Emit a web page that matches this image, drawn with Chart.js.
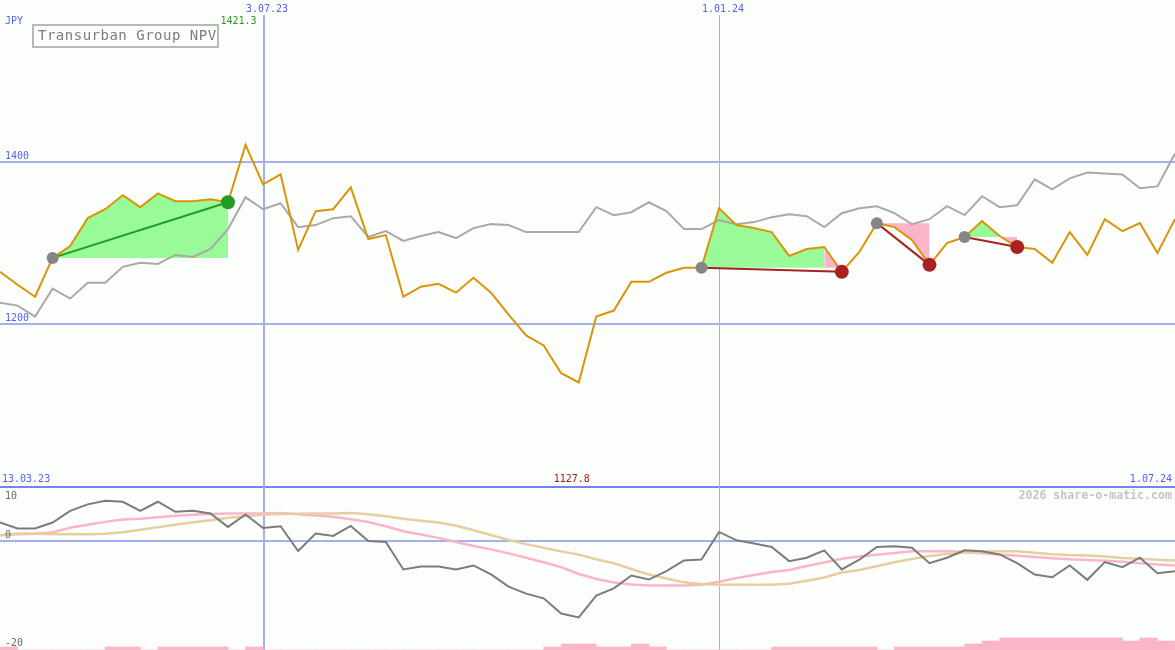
<!DOCTYPE html>
<html>
<head>
<meta charset="utf-8">
<script src="https://cdn.jsdelivr.net/npm/chart.js@4.4.1/dist/chart.umd.min.js"></script>
<style>
  html, body { margin: 0; padding: 0; background: #fcfefc; }
  #wrap { position: relative; width: 1175px; height: 650px; overflow: hidden; }
  #main { position: absolute; left: 0; top: 0; }
  #osc { position: absolute; left: 0; top: 486px; }
</style>
</head>
<body>
<div id="wrap">
  <canvas id="main" width="1175" height="486"></canvas>
  <canvas id="osc" width="1175" height="164"></canvas>
</div>
<script>
// weekly closes, JPY
const price = [1264.4, 1248.5, 1233.7, 1281.6, 1296.3, 1330.7, 1341.7, 1358.9, 1344.2, 1361.3,
    1351.5, 1351.5, 1354.0, 1350.3, 1421.3, 1372.4, 1384.7, 1291.4, 1339.3, 1341.7,
    1368.7, 1304.9, 1309.8, 1233.7, 1246.0, 1249.7, 1238.7, 1257.1, 1238.7, 1211.7,
    1185.9, 1173.6, 1139.3, 1127.8, 1209.2, 1216.6, 1252.1, 1252.1, 1263.2, 1269.3,
    1269.3, 1342.9, 1322.1, 1318.4, 1313.5, 1284.0, 1292.6, 1295.1, 1264.4, 1289.0,
    1324.5, 1319.6, 1303.7, 1273.0, 1300.0, 1307.4, 1327.0, 1308.6, 1295.1, 1292.6,
    1275.5, 1313.5, 1285.3, 1329.4, 1314.7, 1324.5, 1287.7, 1329.4];
// comparison index, rescaled to the price axis
const benchmark = [1226.4, 1222.7, 1209.2, 1243.6, 1231.3, 1250.9, 1250.9, 1270.6, 1275.5, 1274.2,
    1285.3, 1282.8, 1292.6, 1317.2, 1356.4, 1341.7, 1349.1, 1319.6, 1322.1, 1330.7,
    1333.1, 1307.4, 1314.7, 1302.5, 1308.6, 1313.5, 1306.1, 1318.4, 1323.3, 1322.1,
    1313.5, 1313.5, 1313.5, 1313.5, 1344.2, 1334.4, 1338.0, 1350.3, 1339.3, 1317.2,
    1317.2, 1328.2, 1323.3, 1325.8, 1331.9, 1335.6, 1333.1, 1319.6, 1336.8, 1342.9,
    1345.4, 1336.8, 1323.3, 1329.4, 1345.4, 1334.4, 1357.7, 1344.2, 1346.6, 1378.5,
    1366.3, 1379.8, 1387.1, 1385.9, 1384.7, 1367.5, 1369.9, 1410.4];
// lower panel
const momentum = [3.43, 2.31, 2.31, 3.43, 5.59, 6.78, 7.45, 7.27, 5.59, 7.27,
    5.40, 5.59, 5.11, 2.61, 4.92, 2.42, 2.74, -1.86, 1.38, 0.93,
    2.79, 0, -0.19, -5.27, -4.71, -4.71, -5.27, -4.53, -6.20, -8.44,
    -9.74, -10.62, -13.42, -14.16, -10.12, -8.76, -6.39, -7.14, -5.59, -3.60,
    -3.41, 1.68, 0.13, -0.48, -1.12, -3.73, -3.09, -1.73, -5.27, -3.47,
    -1.12, -0.99, -1.23, -4.10, -3.09, -1.73, -1.92, -2.48, -4.10, -6.20,
    -6.71, -4.53, -7.19, -3.91, -4.84, -3.09, -5.96, -5.59];
const signalFast = [1.06, 1.25, 1.34, 1.62, 2.46, 3.02, 3.54, 3.99, 4.14, 4.38,
    4.68, 4.84, 5.01, 5.11, 5.11, 5.11, 5.20, 4.96, 4.73, 4.47,
    4.04, 3.52, 2.74, 1.81, 1.19, 0.58, -0.20, -0.91, -1.55, -2.29,
    -3.11, -3.93, -4.86, -6.11, -7.04, -7.70, -8.07, -8.25, -8.25, -8.25,
    -8.11, -7.56, -6.86, -6.30, -5.74, -5.37, -4.62, -3.97, -3.28, -2.85,
    -2.53, -2.24, -1.92, -1.88, -1.86, -2.05, -2.25, -2.48, -2.72, -2.98,
    -3.20, -3.39, -3.52, -3.65, -3.84, -4.12, -4.34, -4.53];
const signalSlow = [1.06, 1.40, 1.34, 1.25, 1.25, 1.25, 1.34, 1.62, 2.09, 2.55,
    3.02, 3.48, 3.86, 4.32, 4.60, 4.88, 5.01, 5.05, 5.09, 5.11,
    5.18, 4.97, 4.60, 4.14, 3.76, 3.41, 2.81, 1.99, 1.10, 0.20,
    -0.58, -1.25, -1.92, -2.52, -3.37, -4.12, -5.18, -6.20, -6.95, -7.66,
    -7.97, -8.09, -8.12, -8.12, -8.09, -7.92, -7.36, -6.76, -5.83, -5.37,
    -4.68, -3.93, -3.32, -2.76, -2.40, -2.18, -1.96, -1.88, -1.88, -2.16,
    -2.44, -2.61, -2.70, -2.85, -3.13, -3.30, -3.48, -3.60];
// one bar per week interval
const riskBars = [1, 0, 0, 0, 0, 0, 1, 1, 0, 1,
    1, 1, 1, 0, 1, 0, 0, 0, 0, 0,
    0, 0, 0, 0, 0, 0, 0, 0, 0, 0,
    0, 1, 2, 2, 1, 1, 2, 1, 0, 0,
    0, 0, 0, 0, 1, 1, 1, 1, 1, 1,
    0, 1, 1, 1, 1, 2, 3, 4, 4, 4,
    4, 4, 4, 4, 3, 4, 3];
// trades: week index of entry and exit
const tradeEntry = [3, 40, 50, 55];
const tradeExit = [13, 48, 53, 58];

const priceTicks = [1400, 1200];
const oscTicks = [10, 0, -20];
const dateMarks = [15, 41];
const dateMarkLabels = ['3.07.23', '1.01.24'];
const rangeLabels = ['13.03.23', '1.07.24'];
const title = 'Transurban Group NPV';
const watermark = '2026 share-o-matic.com';

const GREEN_FILL = '#98fb98';
const PINK = '#fbb5c9';
const last = price.length - 1;
const pts = arr => arr.map((v, i) => ({x: i, y: v}));

// fill between price and entry level, one dataset per run of same colour
const fillSets = [];
tradeEntry.forEach((a, t) => {
    const base = price[a];
    let run = null;
    for (let i = a; i < tradeExit[t]; i++) {
        const up = price[i + 1] >= base;
        if (!run || run.up !== up) {
            run = {up, base, data: [{x: i, y: price[i]}]};
            fillSets.push(run);
        }
        run.data.push({x: i + 1, y: price[i + 1]});
    }
});

const tradeWon = tradeEntry.map((a, t) => price[tradeExit[t]] >= price[a]);

const datasets = fillSets.map(r => ({
    data: r.data,
    fill: {value: r.base},
    backgroundColor: r.up ? GREEN_FILL : PINK,
    borderColor: 'rgba(0,0,0,0)',
    borderWidth: 0,
    pointRadius: 0,
    order: 10
}));
datasets.push({data: pts(benchmark), borderColor: '#a9a9a9', borderWidth: 2, pointRadius: 0, order: 6});
datasets.push({data: pts(price), borderColor: '#d99408', borderWidth: 2, pointRadius: 0, order: 5});
tradeEntry.forEach((a, t) => {
    const b = tradeExit[t];
    datasets.push({
        data: [{x: a, y: price[a]}, {x: b, y: price[b]}],
        borderColor: tradeWon[t] ? '#239b23' : '#a82020',
        borderWidth: 2,
        pointRadius: 0,
        order: 3
    });
});
datasets.push({
    type: 'scatter',
    data: tradeEntry.map(i => ({x: i, y: price[i]})),
    pointRadius: 6,
    pointBackgroundColor: '#858585',
    pointBorderWidth: 0,
    order: 2
});
datasets.push({
    type: 'scatter',
    data: tradeExit.map(i => ({x: i, y: price[i]})),
    pointRadius: 7,
    pointBackgroundColor: tradeWon.map(w => w ? '#249a24' : '#a82222'),
    pointBorderWidth: 0,
    order: 1
});

function drawMarks(chart, top) {
    const {ctx, scales: {x}} = chart;
    dateMarks.forEach((idx, k) => {
        const px = Math.round(x.getPixelForValue(idx));
        ctx.fillStyle = k === 0 ? '#a2b0ee' : '#a8b2ea';
        ctx.fillRect(px, top, k === 0 ? 2 : 1, chart.height - top);
    });
}

const mainDecor = {
    id: 'mainDecor',
    beforeDatasetsDraw(chart) {
        const {ctx, scales: {y}} = chart;
        ctx.save();
        ctx.fillStyle = '#a2b0ee';
        priceTicks.forEach(v => {
            ctx.fillRect(0, Math.round(y.getPixelForValue(v)) - 1, chart.width, 2);
        });
        drawMarks(chart, 15);
        ctx.restore();
    },
    afterDraw(chart) {
        const {ctx, scales: {x, y}} = chart;
        ctx.save();
        ctx.font = '10px "DejaVu Sans Mono", monospace';
        ctx.textBaseline = 'middle';
        ctx.fillStyle = '#5262ee';
        ctx.textAlign = 'left';
        ctx.fillText('JPY', 5, 21);
        priceTicks.forEach(v => ctx.fillText(String(v), 5, y.getPixelForValue(v) - 6));
        ctx.fillText(rangeLabels[0], 2, 479);
        ctx.textAlign = 'right';
        ctx.fillText(rangeLabels[1], 1172, 479);
        ctx.textAlign = 'center';
        dateMarks.forEach((idx, k) => ctx.fillText(dateMarkLabels[k], x.getPixelForValue(idx) + 4, 9));

        const hi = price.indexOf(Math.max(...price));
        const lo = price.indexOf(Math.min(...price));
        ctx.fillStyle = '#2a9a2a';
        ctx.textAlign = 'right';
        ctx.fillText(price[hi].toFixed(1), x.getPixelForValue(hi) + 11, 21);
        ctx.fillStyle = '#a01c1c';
        ctx.textAlign = 'center';
        ctx.fillText(price[lo].toFixed(1), x.getPixelForValue(lo) - 7, 479);

        // title box
        ctx.strokeStyle = '#b8b8b8';
        ctx.lineWidth = 2;
        ctx.strokeRect(33, 25, 185, 22);
        ctx.font = '14px "DejaVu Sans Mono", monospace';
        ctx.letterSpacing = '0.5px';
        ctx.fillStyle = '#7c7c7c';
        ctx.textAlign = 'left';
        ctx.fillText(title, 38, 36);
        ctx.restore();
    }
};

const oscDecor = {
    id: 'oscDecor',
    beforeDatasetsDraw(chart) {
        const {ctx, scales: {y}} = chart;
        ctx.save();
        ctx.fillStyle = '#7484ec';
        ctx.fillRect(0, 0, chart.width, 2);
        ctx.fillStyle = '#a2b0ee';
        ctx.fillRect(0, Math.round(y.getPixelForValue(0)) - 1, chart.width, 2);
        drawMarks(chart, 0);
        ctx.restore();
    },
    afterDraw(chart) {
        const {ctx, scales: {y}} = chart;
        ctx.save();
        ctx.font = '10px "DejaVu Sans Mono", monospace';
        ctx.textBaseline = 'middle';
        ctx.fillStyle = '#6a6a6a';
        ctx.textAlign = 'left';
        oscTicks.forEach(v => ctx.fillText(String(v), 5, Math.max(10, y.getPixelForValue(v) - 6)));
        ctx.font = 'bold 11.6px "DejaVu Sans Mono", monospace';
        ctx.fillStyle = '#c4c4c4';
        ctx.textAlign = 'right';
        ctx.fillText(watermark, 1172, 10);
        ctx.restore();
    }
};

const common = {
    responsive: false,
    animation: false,
    devicePixelRatio: 1,
    events: [],
    layout: {padding: 0, autoPadding: false},
    plugins: {legend: {display: false}, tooltip: {enabled: false}}
};

new Chart(document.getElementById('main'), {
    type: 'line',
    data: {datasets},
    options: Object.assign({}, common, {
        scales: {
            x: {type: 'linear', min: 0, max: last, display: false},
            y: {min: 1000, max: 1600, display: false}
        }
    }),
    plugins: [mainDecor]
});

new Chart(document.getElementById('osc'), {
    type: 'line',
    data: {
        datasets: [
            {
                type: 'bar',
                data: riskBars.map((v, i) => ({x: i + 0.5, y: v})),
                backgroundColor: PINK,
                yAxisID: 'yb',
                barPercentage: 1,
                categoryPercentage: 1,
                borderWidth: 0,
                order: 9
            },
            {data: pts(signalFast), borderColor: PINK, borderWidth: 2.5, pointRadius: 0, order: 5},
            {data: pts(signalSlow), borderColor: '#e6cf9e', borderWidth: 2.5, pointRadius: 0, order: 4},
            {data: pts(momentum), borderColor: '#7c7c7c', borderWidth: 2, pointRadius: 0, order: 2}
        ]
    },
    options: Object.assign({}, common, {
        scales: {
            x: {type: 'linear', min: 0, max: last, offset: false, display: false},
            y: {min: -20.185, max: 10.185, display: false},
            yb: {min: 0, max: 164 / 3, display: false}
        }
    }),
    plugins: [oscDecor]
});
</script>
</body>
</html>
